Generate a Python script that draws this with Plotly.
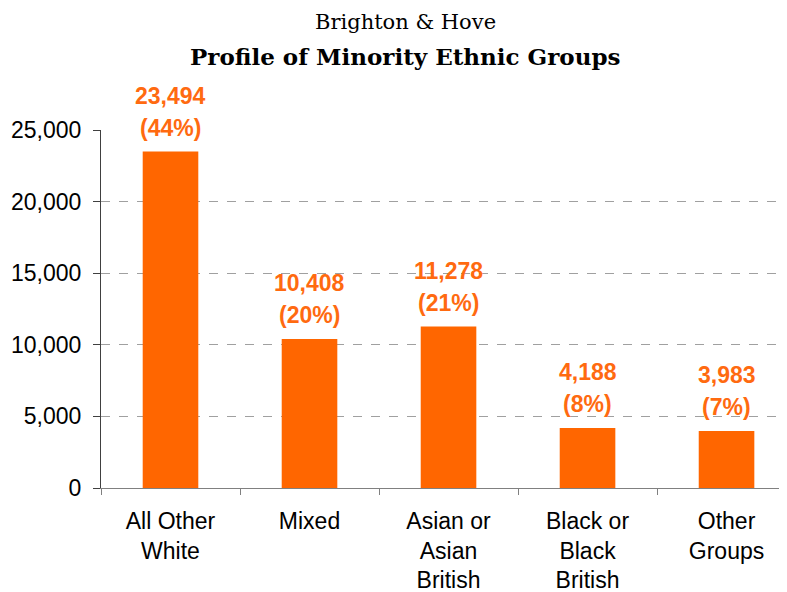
import plotly.graph_objects as go

# Data
categories = ["All Other<br>White", "Mixed", "Asian or<br>Asian<br>British",
              "Black or<br>Black<br>British", "Other<br>Groups"]
counts = [23494, 10408, 11278, 4188, 3983]
shares = ["44%", "20%", "21%", "8%", "7%"]
y_ticks = [0, 5000, 10000, 15000, 20000, 25000]
title_top = "Brighton & Hove"
title_main = "Profile of Minority Ethnic Groups"

orange = "#FF6600"
label_color = "#FF6A10"
label_font = dict(family="Liberation Sans, Arial", size=23, color=label_color)

# page body has an 8px margin, so the figure is drawn 8px in from the corner
W, H = 779, 584
L, T, B = 93, 122, 104
plot_h = H - T - B
plot_w = W - L
cx = (405 - 8 - L) / plot_w

fig = go.Figure()
fig.add_trace(go.Bar(
    x=categories, y=counts, width=0.4,
    marker=dict(color=orange, line=dict(width=0)),
    hoverinfo="x+y",
))

# value labels: count on top line, share below it
for cat, c, s in zip(categories, counts, shares):
    fig.add_annotation(x=cat, y=c, text=f"<b>{c:,}</b>", showarrow=False,
                       yanchor="middle", yshift=56, font=label_font)
    fig.add_annotation(x=cat, y=c, text=f"<b>({s})</b>", showarrow=False,
                       yanchor="middle", yshift=24, font=label_font)

fig.add_annotation(text=title_top, xref="paper", yref="paper",
                   x=cx, y=1 + (T - (22 - 8)) / plot_h, xanchor="center", yanchor="middle",
                   showarrow=False,
                   font=dict(family="DejaVu Serif, Georgia, serif", size=21, color="black"))
fig.add_annotation(text=f"<b>{title_main}</b>", xref="paper", yref="paper",
                   x=cx, y=1 + (T - (57 - 8)) / plot_h, xanchor="center", yanchor="middle",
                   showarrow=False,
                   font=dict(family="DejaVu Serif, Georgia, serif", size=23, color="black"))

fig.update_layout(
    width=W, height=H,
    paper_bgcolor="white", plot_bgcolor="white",
    margin=dict(l=L, r=0, t=T, b=B),
    showlegend=False,
)

fig.update_xaxes(
    range=[-0.5, 4.435], automargin=False,
    showline=True, linecolor="#808080", linewidth=1,
    ticks="outside", tickson="boundaries", ticklen=6, tickcolor="#808080",
    ticklabelstandoff=12,
    tickfont=dict(family="Liberation Sans, Arial", size=23, color="black"),
    showgrid=False,
)
fig.update_yaxes(
    range=[0, 25000], automargin=False,
    tickvals=y_ticks, tickformat=",",
    showline=True, linecolor="#404040", linewidth=1,
    ticks="outside", ticklen=7, tickcolor="#404040",
    ticklabelstandoff=7,
    tickfont=dict(family="Liberation Sans, Arial", size=23, color="black"),
    showgrid=True, gridcolor="#A0A0A0", griddash="dash", gridwidth=1,
    zeroline=False,
)

fig.write_html("out.html")
